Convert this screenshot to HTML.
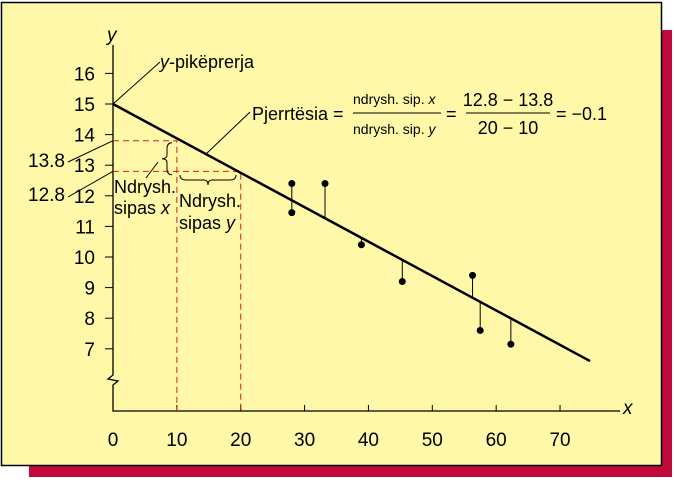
<!DOCTYPE html>
<html><head><meta charset="utf-8"><style>
body{margin:0;width:674px;height:479px;background:#fff;overflow:hidden;font-family:"Liberation Sans",sans-serif}
svg text{font-family:"Liberation Sans",sans-serif}
</style></head><body>
<svg width="674" height="479" xmlns="http://www.w3.org/2000/svg">
<rect x="29" y="30" width="643" height="447" fill="#c20a3a"/>
<rect x="1.5" y="2.5" width="660" height="463" fill="#fef8a8" stroke="#000" stroke-width="1.5"/>
<g id="plot" fill="#000"></g>
</svg>
<script>
const xTicks=[0,10,20,30,40,50,60,70];
const yTicks=[7,8,9,10,11,12,13,14,15,16];
const ptX=[28,28,33.2,38.9,45.3,56.3,57.5,62.3];
const ptY=[12.4,11.45,12.4,10.4,9.2,9.4,7.6,7.15];
const lineX=[0,74.7];
const lineY=[15,6.6];
const slope=(lineY[1]-lineY[0])/(lineX[1]-lineX[0]);
const X=v=>113+v*6.386, Y=v=>104+(15-v)*30.6;
const g=document.getElementById('plot');
const NS='http://www.w3.org/2000/svg';
function mk(t,a,txt){const e=document.createElementNS(NS,t);for(const k in a)e.setAttribute(k,a[k]);if(t==='text'&&!a['font-size'])e.setAttribute('font-size','19');if(txt!==undefined)e.textContent=txt;g.appendChild(e);return e;}
let e;
e=mk('path',{d:'M113 45 V375 l-5 4 l10 2 l-5 4 V411 H620',fill:'none',stroke:'#000','stroke-width':1.3});


xTicks.forEach(v=>{
 e=mk('line',{x1:X(v),x2:X(v),y1:411,y2:405,stroke:'#000'});
 
 
 e=mk('text',{x:X(v),y:446,'text-anchor':'middle'},v);
 
 
});
yTicks.forEach(v=>{
 e=mk('line',{x1:105,x2:113,y1:Y(v),y2:Y(v),stroke:'#000'});
 
 
 e=mk('text',{x:95,y:Y(v)+7,'text-anchor':'end'},v);
 
 
});
e=mk('text',{x:107,y:41,'font-style':'italic'},'y');


e=mk('text',{x:623,y:414,'font-style':'italic'},'x');


const y138=Y(13.8), y128=Y(12.8);
e=mk('path',{d:`M113 ${y138} H${X(10)} V411 M113 ${y128} H${X(20)} V411`,fill:'none',stroke:'#d42020','stroke-dasharray':'6 4','stroke-width':1});


e=mk('line',{x1:X(lineX[0]),y1:Y(lineY[0]),x2:X(lineX[1]),y2:Y(lineY[1]),stroke:'#000','stroke-width':2.5});


ptX.forEach((x,i)=>{
 const ly=lineY[0]+slope*x;
 e=mk('line',{x1:X(x),x2:X(x),y1:Y(ptY[i]),y2:Y(ly),stroke:'#000','stroke-width':1});
 
 
 e=mk('circle',{cx:X(x),cy:Y(ptY[i]),r:3.5,fill:'#000'});
 
 
});
e=mk('path',{d:`M113 104 L160 62 M68 162 L113 ${y138} M68 197 L113 ${y128} M205 155 L250 112 M146 178 L158 162`,stroke:'#000',fill:'none','stroke-width':1});


e=mk('text',{x:160,y:68,'font-size':18},'');
e.innerHTML='<tspan font-style="italic">y</tspan>-pikëprerja';


e=mk('text',{x:28,y:167},'13.8');


e=mk('text',{x:28,y:201},'12.8');


e=mk('path',{d:`M172 ${y138+2} q-5 0 -5 6 v6 q0 4 -5 4 q5 0 5 4 v6 q0 6 5 6`,fill:'none',stroke:'#000','stroke-width':1});


e=mk('path',{d:`M180 175 q0 5 6 5 h18 q4 0 4 5 q0 -5 4 -5 h18 q6 0 6 -5`,fill:'none',stroke:'#000','stroke-width':1});


e=mk('text',{x:114,y:193,'font-size':18},'Ndrysh.');


e=mk('text',{x:114,y:214,'font-size':18},'');
e.innerHTML='sipas <tspan font-style="italic">x</tspan>';


e=mk('text',{x:179,y:207,'font-size':18},'Ndrysh.');


e=mk('text',{x:179,y:229,'font-size':18},'');
e.innerHTML='sipas <tspan font-style="italic">y</tspan>';


e=mk('text',{x:252,y:120,'font-size':18},'Pjerrtësia =');


e=mk('text',{x:353,y:104,'font-size':14},'');
e.innerHTML='ndrysh. sip. <tspan font-style="italic">x</tspan>';


e=mk('text',{x:353,y:134,'font-size':14},'');
e.innerHTML='ndrysh. sip. <tspan font-style="italic">y</tspan>';


e=mk('path',{d:'M353 113 H441 M466 113 H550',stroke:'#000','stroke-width':1});


e=mk('text',{x:446,y:120,'font-size':18},'=');


e=mk('text',{x:508,y:106,'font-size':18,'text-anchor':'middle'},'12.8 − 13.8');


e=mk('text',{x:508,y:134,'font-size':18,'text-anchor':'middle'},'20 − 10');


e=mk('text',{x:556,y:120,'font-size':18},'= −0.1');


</script>
</body></html>
